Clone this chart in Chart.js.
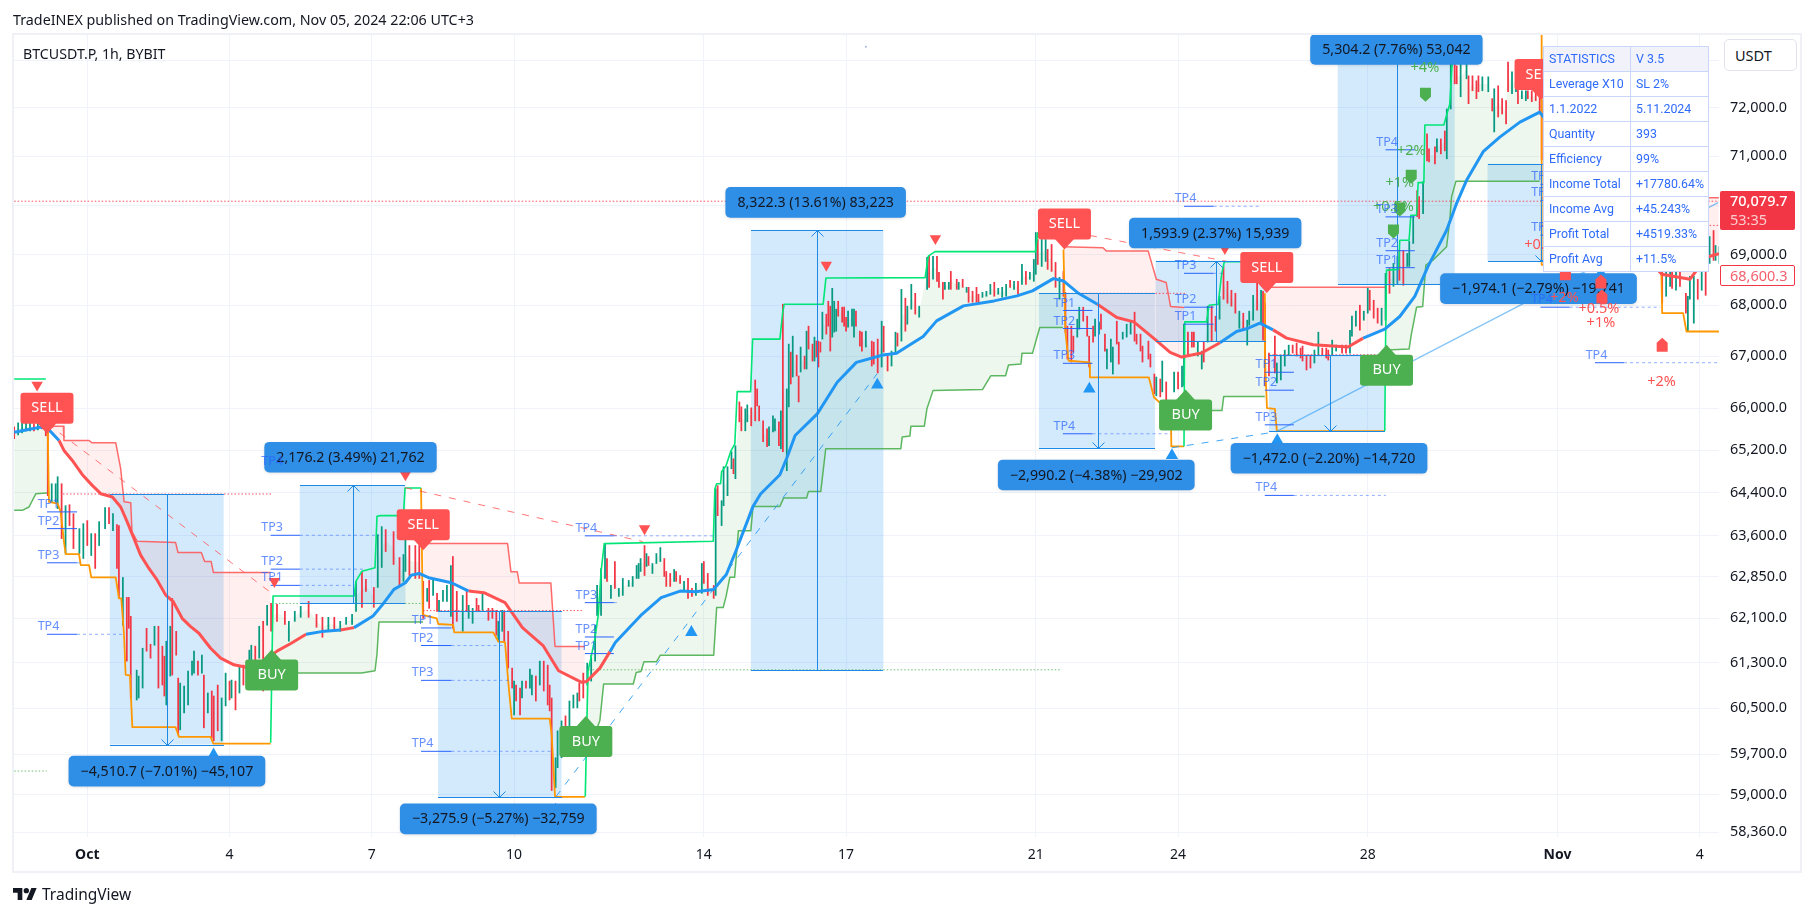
<!DOCTYPE html>
<html><head><meta charset="utf-8">
<script src="https://cdn.jsdelivr.net/npm/chart.js@4/dist/chart.umd.min.js"></script>
<style>
html,body{margin:0;padding:0;background:#fff;width:1814px;height:916px;overflow:hidden;font-family:"Noto Sans",sans-serif;color:#131722}
canvas{position:absolute;left:0;top:0;display:block}
.abs{position:absolute;white-space:nowrap}
#stats{position:absolute;left:1543px;top:46px;width:165px;border-collapse:collapse;background:#fff;font-family:Roboto,sans-serif;font-size:12.4px;color:#2f6bfa;table-layout:fixed}
#stats td{border:1px solid #c9d6fa;height:24px;padding:0 0 0 5px;line-height:24px;white-space:nowrap;overflow:hidden}
#stats tr:first-child td{background:#f2f3fa}
</style></head><body>
<canvas id="c" width="1814" height="916" style="width:1814px;height:916px"></canvas>
<div class="abs" style="left:12px;top:33px;width:1786px;height:836px;border:2px solid #f0f1f7;pointer-events:none"></div>
<div class="abs" id="pub" style="left:13px;top:10px;font-size:14.3px;line-height:20px">TradeINEX published on TradingView.com, Nov 05, 2024 22:06 UTC+3</div>
<div class="abs" id="sym" style="left:23px;top:44px;font-size:14.2px;line-height:20px">BTCUSDT.P, 1h, BYBIT</div>
<div class="abs" style="left:1724px;top:39px;width:71px;height:30px;border:1px solid #e0e3eb;border-radius:5px;background:#fff;font-size:14.5px;line-height:30px;padding-left:0;text-indent:10px;box-sizing:content-box">USDT</div>
<div class="abs" style="left:1720px;top:191px;width:75px;height:39px;background:#f23645;border-radius:2px;color:#fff;font-size:14.5px;line-height:19px;text-indent:10px;padding-top:0"><div style="font-weight:500">70,079.7</div><div style="opacity:.75">53:35</div></div>
<div class="abs" style="left:1720px;top:265px;width:73px;height:19px;background:#fff;border:1px solid #f23645;border-radius:2px;color:#f4606d;font-size:14.5px;line-height:19px;text-indent:9px">68,600.3</div>
<table id="stats">
<colgroup><col style="width:87px"><col style="width:78px"></colgroup>
<tr><td>STATISTICS</td><td>V 3.5</td></tr>
<tr><td>Leverage X10</td><td>SL 2%</td></tr>
<tr><td>1.1.2022</td><td>5.11.2024</td></tr>
<tr><td>Quantity</td><td>393</td></tr>
<tr><td>Efficiency</td><td>99%</td></tr>
<tr><td>Income Total</td><td>+17780.64%</td></tr>
<tr><td>Income Avg</td><td>+45.243%</td></tr>
<tr><td>Profit Total</td><td>+4519.33%</td></tr>
<tr><td>Profit Avg</td><td>+11.5%</td></tr>
</table>
<svg class="abs" style="left:13px;top:888px" width="24" height="12" viewBox="0 4 36 18"><path fill="#131722" d="M14 22H7V11H0V4h14v18zM28 22h-8l7.5-18h8L28 22z"/><circle fill="#131722" cx="20" cy="8" r="4"/></svg>
<div class="abs" style="left:42px;top:883px;font-size:15.5px;line-height:22px;color:#131722">TradingView</div>
<script>
// ---------- axes (x is hours since 1 Oct 00:00) ----------
const xTickHours=[0,72,144,216,312,384,480,552,648,744,816];
const xTickLabels=['Oct','4','7','10','14','17','21','24','28','Nov','4'];
const yTickValues=[73000,72000,71000,70000,69000,68000,67000,66000,65200,64400,63600,62850,62100,61300,60500,59700,59000,58360];

// ---------- candles ----------
const candleHours=[
-37,-35,-33,-31,-29,-27,-25,-23,-21,
-20,-18,-16,-15,-13,-11,-9,-7,-4,-2,0,2,4,6,9,11,13,15,16,18,20,21,22,25,26,28,30,32,34,36,38,39,40,42,43,45,46,47,49,51,53,54,56,58,59,61,63,64,66,68,70,72,73,75,77,79,82,83,85,87,89,91,93,
96,100,102,105,108,112,116,119,122,125,128,131,134,136,139,141,145,147,149,151,155,158,160,
161,163,166,168,170,172,173,175,177,178,180,182,184,185,187,190,192,193,195,197,198,200,203,205,207,208,210,211,213,215,216,217,219,220,222,224,225,227,229,231,233,234,235,237,238,240,242,244,246,248,249,251,253,255,257,258,260,262,
263,265,267,269,271,274,276,278,279,280,282,283,284,286,288,290,292,293,295,297,298,300,302,304,306,308,311,312,314,317,318,319,321,322,324,326,327,328,330,331,333,334,336,338,339,340,342,344,345,347,348,350,351,352,354,355,356,357,359,360,361,363,364,365,367,368,369,370,371,372,374,375,376,377,378,379,380,382,383,384,385,387,388,389,391,392,394,397,398,400,402,403,405,407,409,410,412,414,415,417,419,421,
425,426,428,430,431,433,434,436,437,440,441,443,445,446,448,450,451,453,455,457,459,461,463,465,467,469,471,473,475,477,479,480,481,483,485,486,488,490,492,494,495,496,498,499,501,502,504,506,507,509,510,512,513,515,516,518,519,521,522,524,526,528,530,531,533,534,537,538,540,541,543,544,546,550,552,554,555,557,559,560,562,564,565,567,569,571,
573,575,577,579,581,583,585,587,588,590,592,594,595,596,598,601,602,604,606,608,610,612,614,615,617,619,621,623,625,627,628,630,632,635,637,639,640,642,644,646,648,649,651,653,655,657,659,661,663,664,666,668,669,671,673,674,676,678,679,682,683,685,687,688,690,692,693,695,698,699,701,703,704,706,709,711,712,714,716,718,719,721,723,724,726,728,729,731,733,735,736,
797,799,801,802,804,806,809,810,811,813,815,817,819,821,823,824,826];
const candleLows=[
65415,65490,65528,65566,65566,65566,65585,65604,65471,
64345,64233,64233,64103,63549,63274,63789,63366,63274,63183,63421,63238,63001,63421,63733,63825,63696,63001,62457,61972,61331,61918,60679,60644,60679,60854,61508,61384,61614,60854,60907,60714,60557,61066,61083,61437,60034,60121,60417,60557,61083,61118,61083,61118,60156,60417,59982,59930,60104,59930,60539,60644,60679,60470,60767,60907,61083,61260,61331,61384,60802,61972,61864,
62043,61989,61686,62043,62115,62115,61936,61757,61864,61864,61864,61989,61989,62223,62295,62584,62295,62656,63019,63311,63074,62674,62765,
62946,62873,62819,62819,62097,62403,62277,62511,62223,62223,62403,62403,62133,61918,62043,61864,62223,62097,62007,62223,62223,62241,62061,62097,61793,61686,61864,61686,61207,60854,60382,60626,60382,60679,60854,60854,60732,60626,60907,60802,60557,60452,59072,59123,59465,59637,59930,60034,60504,60504,60626,60679,60907,60977,61331,62151,62151,62819,
62765,62457,62638,62493,62511,62674,62674,62819,62819,62946,62873,63038,63056,62910,63092,63128,62855,62674,62674,62765,62765,62729,62584,62457,62493,62511,62548,62729,62511,62457,62511,63973,63789,64158,64345,64850,64756,64662,65737,65566,65566,65737,65661,65756,66042,65756,65358,65264,65283,65547,65566,65283,65226,65170,64812,66023,66463,66597,66617,66118,66694,66752,66752,67139,66906,66906,66984,66790,67080,67333,67430,67586,67100,67372,67469,67488,67782,67664,67586,67488,67566,67586,67372,67586,67197,67100,67178,66810,66848,66675,66790,67080,66713,66810,67080,67197,67294,67488,67625,67920,67822,67762,
68312,68352,68511,68471,68352,68116,68312,68312,68312,68312,68312,68352,68253,68057,68057,68057,68057,68155,68175,68214,68175,68214,68155,68175,68352,68312,68214,68411,68411,68511,68471,68610,68807,68767,68867,68708,68668,68352,68116,68175,67469,66945,66887,67080,67372,67527,67684,67391,66790,67275,67391,67430,67527,67100,66752,66887,66655,67236,66848,67333,67372,67430,67294,67236,67100,66887,66945,66790,66272,66234,66215,66311,66138,66311,66368,66406,66425,67042,67178,67178,67003,66752,66887,67275,67294,67488,
67723,68116,68038,67979,67841,67546,67507,67216,67605,67703,67900,67645,67313,66425,66617,66675,66483,66540,66810,67023,67061,67003,66965,66906,66733,66771,66868,67023,67023,66965,66925,67023,67100,67061,67061,67061,67391,67586,67507,67703,67841,67900,67743,67645,67605,67703,68233,68372,68431,68491,68391,68767,68767,69227,69768,69728,69829,70905,70885,70844,71090,71049,71111,70946,71979,72506,72506,72235,72611,72090,72360,72195,72340,72360,72340,71937,71501,71813,71875,71669,72340,72298,72340,72090,72195,72153,72195,72132,72153,71875,70926,
68038,68175,68372,68332,68293,68372,67841,67488,68116,67645,68116,68293,68194,68827,68887,68887,68827];
const candleHighs=[
65642,65718,65737,65718,65718,65699,65718,65718,65699,
65547,64568,64568,64700,64568,64158,64177,64010,63733,63825,63881,63641,63641,63862,64122,64122,64010,63807,63789,62837,62475,62475,62133,61171,61066,61561,61918,61632,61954,61954,61597,61419,61686,61954,62457,61864,61030,60942,60889,61154,61331,61508,61331,61437,61083,60767,60802,60714,60907,60679,61118,60977,60995,60977,61242,61260,61526,61614,61597,61954,62043,62331,62366,
62349,62223,62043,62223,62313,62403,62169,62115,62115,62115,62043,62115,62169,62765,62946,62801,62656,63622,63770,63715,63678,63201,63256,
63549,63421,63421,63421,62765,62638,62783,62783,62548,62421,62602,62692,63056,63220,62584,62511,62584,62331,62277,62457,62331,62548,62277,62277,62241,62043,62241,62223,61864,61207,60977,60907,60854,60977,60977,61189,61083,61066,61331,61331,61260,60907,60679,59637,60104,60278,60365,60626,60732,60767,60942,61118,61295,61437,61972,62692,63001,63457,
63183,62692,63128,62638,62819,62783,62855,63056,63092,63183,63421,63274,63220,63092,63274,63384,63183,62946,62910,62983,62946,62873,62765,62819,62638,62729,63092,63128,62910,62692,64475,64531,64252,64887,64887,65170,65037,65283,66118,66023,65985,66061,66004,66540,66368,66042,65756,65604,65642,65851,65794,65737,65947,68018,66368,67236,67080,67391,67023,66617,67178,67003,67488,67586,67236,67372,67294,67294,67275,67861,67822,68077,67979,68332,68077,67920,68077,67959,67959,67762,67881,67920,67920,67881,67488,67469,67488,67294,67275,67333,67684,67586,67042,67100,67469,67449,68312,68136,67979,68411,68233,67979,
68947,68967,68967,68967,68649,68451,68451,68451,68668,68511,68451,68511,68352,68352,68273,68352,68214,68253,68273,68411,68451,68332,68352,68411,68491,68471,68471,68807,68668,68649,68907,69447,69306,69306,69306,69107,69206,68847,68550,68668,68253,67586,67586,67391,67723,67959,67959,67782,67391,67586,67723,67664,67822,67430,67139,67333,67178,67684,67275,67469,67625,67664,67861,67430,67430,67197,67294,67042,66655,66597,66559,66906,66502,66694,66694,66810,67625,67469,67469,67469,67275,67100,67275,67979,67979,67782,
68175,68767,68471,68293,68233,67881,67841,67703,67881,68194,68471,68293,68273,68038,67061,67391,66868,67023,67119,67216,67216,67255,67158,67197,67023,67023,67119,67469,67158,67158,67119,67313,67216,67216,67216,67507,67782,67881,67998,67881,68332,68293,68096,67940,67940,68630,68728,68827,68967,69087,69087,69027,69267,69768,70296,70174,70478,71460,71152,71193,71357,71357,71522,71979,72967,72988,72884,73030,73030,72674,72674,72569,72674,72653,72653,72195,72402,72464,72195,72153,72967,72758,72758,72402,72360,72360,72360,72360,72340,72256,72167,
69107,69007,68907,69007,68947,68867,68233,68175,68570,68570,68511,68867,68807,69366,69487,69186,69166];
const candleDirs=("rggggrgrr"
+"rgggrgrrgg rgrggrgrrg rrrgggrrgr rrggrrrggg ggrgrgrrrg grgrgrggrg rgr"
+"rrgggrrrgrgggg rrrgg rrrg"
+"grrrrgrgrg gggrrgrggr rgrrrggrrr grrgrggrgr rrrgggrggg rrgggggg"
+"rgrggggggg rgrgggrrrg rrgrrggrrr grggggrgrr ggrrrrrrgg grgrggrgrr grgrrgrrrg rrrgggrrrr gggrrrgrrr grrggrgrgg rg"
+"grgrrrggrr grgrrrrggg rgggrgrgrg ggrggrrrgr rrrrggrrrr ggrrgggrrg ggrrrrrrrg rgrgrggrrr ggrgrr"
+"grrrrgrggg rgrrrrgggg rrrrrrggrr rggrrgggrg grrrggrggr rgggrrgrrr grrggrrggr rrrggrgrrr rggrggrrrrr"
+"rggrgrrgggrgrgrgg").replace(/ /g,'');

// ---------- smoothed average (thick line) ----------
const emaHours=[-37,-30.4,-23.6,-20.2,-14.3,-11.8,-7.6,-2.5,2.5,6.8,12.7,16.9,20.2,23.3,27,31.2,35.4,39.7,43.5,48,52.3,56.5,62.4,67.5,74.2,81,88.4,96.2,103,110.7,118.5,128.2,135,144.6,149.5,155.2,161,164,167.9,172.7,184.3,193,200.7,211.4,220.2,230.8,238.5,250.2,252.7,259.4,264.5,267.2,280.7,290.4,300,307.9,317,323.4,328.2,336.9,340.7,350.5,354.3,358.2,369.4,379.5,389.2,402.7,409.5,423,429.8,443.4,458.9,470.5,478.3,488.9,494,501.6,511.2,521,529.6,540.2,548,553.8,563.9,573.2,581.6,587.5,593.4,600.1,606.9,620.4,638,645.7,656.6,664.2,671.8,678.5,687.9,692.9,698,706.4,714.8,725,735,750,765,785.6,796.8,811,819.4,825.7];
const emaPrices=[65541,65585,65636,65617,65383,65194,65005,64737,64537,64382,64321,64134,63857,63579,63245,63001,62788,62516,62397,62097,61948,61828,61561,61384,61266,61219,61313,61513,61645,61811,61858,61888,61930,62138,62349,62620,62741,62880,62910,62832,62741,62590,62560,62380,61930,61602,61160,60955,60970,61207,61500,61662,62169,62470,62590,62578,62620,62892,63317,64145,64376,64737,65080,65477,65890,66495,66881,67023,67056,67385,67690,67985,68083,68182,68281,68525,68478,68233,68018,67756,67670,67333,67075,66984,67062,67263,67482,67546,67645,67514,67352,67222,67178,67352,67527,67776,68174,68767,69493,70030,70505,71092,71394,71705,71912,71132,70112,69107,68610,68511,68950,69020];
const emaRedFrom=[-20,126,192,502,600,736];
const emaRedTo=[110.7,130,261,573,640,826];

// ---------- stepped bands (null ends a trend) ----------
const upperGreenHours=[-37,-21,-20,
92.8,94,135,136,139,145.6,146.6,148,160,160.8,168.9,169,
252,253.4,255.2,256.9,258.6,260,261.6,316.8,317.6,318.5,320.5,321,323.2,325.6,327.7,328.9,335.7,336.7,350.5,351.9,352.7,372.4,373.8,424,425.6,429,479.8,481,493.7,494,
555,555.4,566.4,567.7,572.3,574,575.4,595.9,596,
656.6,657,657.5,663.6,664.2,668.9,669.8,672.7,673.5,676.4,676.9,686.5,689.5,690.7,692.9,693.6,735.6];
const upperGreenPrices=[66560,66560,null,
59895,62499,62499,62770,62952,63014,63960,63973,63973,64488,64488,null,
58965,61154,61443,61739,62157,62940,63457,63500,64475,64568,64568,64794,64900,65175,65320,66316,66316,67333,67333,67855,68018,68018,68537,68545,68974,69063,69063,69440,69440,null,
65270,67670,67670,67998,68018,68594,68860,68860,null,
65561,67197,68694,68708,69292,69292,69795,69795,70458,70458,71646,71646,72083,72925,73455,73644,73644];
const lowerOrangeHours=[-20,-19.4,-15,-13.5,-11.8,-10.9,-4.2,-3.3,0.9,2,14.4,16,17.2,18.6,19.4,21.6,22.8,44.7,46.4,62.4,63.8,92.8,93,
168.9,169.8,176.8,177.6,185.2,185.7,205.4,208,211.4,213,214.8,234,235,236.7,251.8,252,
494,495,496.6,507.3,507.4,537.2,539.8,543,548.3,548.6,555,555.5,
595.9,596,597,601,602,656.6,657,
736,736,796.5,797,807.6,809.3,825.7];
const lowerOrangePrices=[65547,64228,64196,64048,63489,63262,63262,63061,63061,62837,62837,62457,62457,61798,61088,61078,60168,60168,59999,59999,59883,59883,null,
64488,62157,62097,61995,61978,61846,61846,61680,61668,60977,60318,60318,60040,58965,58965,null,
69107,67469,66912,66881,66592,66592,66208,66094,66094,65270,65270,null,
68233,66945,65998,65985,65561,65561,null,
73700,68800,68800,67841,67841,67482,67482];
const upperRedHours=[-19.7,-12.1,-11.8,0.9,2.4,14.4,16.9,18.6,22,22.6,25.3,44.7,45.9,57.7,59.4,62.7,63.8,92.8,93,
170,212.7,214.4,217.6,218.6,234.6,236.7,251.8,252,
493.9,514,515.8,536.9,541,546,548.2,555,555.5,
596,657,657.5,
736,825.7];
const upperRedPrices=[65655,65655,65383,65383,65339,65339,64850,64233,64215,63678,63500,63476,63293,63293,63128,63128,62928,62928,null,
63457,63457,62940,62940,62734,62734,61591,61591,null,
69161,69140,69073,69073,68511,68446,67973,67953,null,
68352,68352,null,
70150,70150];
const lowerGreenHours=[-37,-32.9,-29.5,-26,-20.4,-20,
93,138.8,145.6,146.6,147.6,169.9,170,
252.3,259.4,261.3,276.3,277.8,280.2,281.7,288,290,317,318.5,321.8,323.3,325.2,327.6,329.5,335.8,336.9,350.5,352.4,364,365,371.2,373.7,411.7,412.4,416.3,416.8,423.6,424.9,428,453,457.3,464.7,466.2,472.5,473,478.3,482,493.7,494,
556,574.2,575.1,595.9,596,
657.5,668.9,670,672.7,675.8,677.4,681,687.9,689.5,690.4,692.6,735];
const lowerGreenPrices=[64072,64072,64134,64382,64395,null,
61122,61122,61160,61455,62030,62030,null,
59637,60283,60925,60925,61130,61148,61318,61318,61437,61437,62290,62290,62499,62842,62842,63696,63696,64145,64145,64302,64302,64425,64425,65226,65226,65447,65466,65655,65655,65985,66335,66355,66623,66623,66829,66848,67056,67056,67560,67560,null,
65953,65953,66220,66220,null,
67120,67139,67416,67959,67973,68793,68893,69160,69694,70167,70484,70484];
const buyTrendFrom=[-37,93,252,555,657];
const buyTrendTo=[-20,169,494,596,736];

// ---------- position boxes ----------
const boxStart=[11.4,107.5,177.5,335.8,481.6,540.6,598,632.8,708.6];
const boxEnd=[69,161,240,402.9,540.3,596.4,656.6,692,762];
const boxTop=[64376,64541,62236,69499,68233,68882,67028,73715,70844];
const boxBottom=[59865,62365,58960,61177,65243,67288,65556,68411,68870];
const boxArrowHour=[40.4,134.4,208.5,369.4,511.3,571,629,662.9,735.6];
const boxArrowUp=[0,1,0,1,0,1,0,1,0];
const pillTexts=['\u22124,510.7 (\u22127.01%) \u221245,107','2,176.2 (3.49%) 21,762','\u22123,275.9 (\u22125.27%) \u221232,759','8,322.3 (13.61%) 83,223','\u22122,990.2 (\u22124.38%) \u221229,902','1,593.9 (2.37%) 15,939','\u22121,472.0 (\u22122.20%) \u221214,720','5,304.2 (7.76%) 53,042','\u22121,974.1 (\u22122.79%) \u221219,741'];
const pillHours=[40.3,133.2,208,368.6,510.6,570.8,628.4,662.5,734.4];
const pillPrices=[59407,65066,58590,70058,64732,69437,65047,73235,68325];

// ---------- trade flags and markers ----------
const sellHours=[-20.4,170,494.5,596.9,735.7];
const sellPrices=[65510,63335,69107,68240,72167];
const buyHours=[93.3,252.3,555.8,657.5];
const buyPrices=[61540,60364,66355,67222];
const triangleDownHours=[-25.4,94.7,161,282,374,429.2,575.7];
const triangleDownPrices=[66443,62765,64737,63733,68795,69326,69127];
const triangleUpHours=[63.9,237,305.7,399.8,507.1,548.9,602.2,766];
const triangleUpPrices=[59688,58740,61846,66445,66368,65100,65383,68630];
const specHours=[394];
const specPrices=[73290];
const shieldGreenHours=[677.2,670,664.2,661];
const shieldGreenPrices=[72276,70580,69910,69467];
const shieldRedHours=[797,766,766.5,748];
const shieldRedPrices=[67222,68465,68170,68630];
const gainTexts=['+4%','+2%','+1%','+0.5%','+0.5%','+2%','+0.5%','+1%','+2%'];
const gainHours=[676.9,670,664.2,661,737.5,747.5,765,766,796.7];
const gainPrices=[72840,71118,70458,69965,69200,68135,67920,67645,66507];
const gainIsGreen=[1,1,1,1,0,0,0,0,0];

// ---------- take profit ticks ----------
const tpNames=['TP1','TP2','TP3','TP4','TP1','TP2','TP3','TP4','TP1','TP2','TP3','TP4','TP1','TP2','TP3','TP4','TP1','TP2','TP3','TP4','TP1','TP2','TP3','TP4','TP1','TP2','TP3','TP4','TP1','TP2','TP3','TP4','TP1','TP2','TP3','TP4','TP4'];
const tpStart=[-20.4,-20.4,-20.4,-20.4,92.8,92.8,92.8,92.8,168.9,168.9,168.9,168.9,251.8,251.8,251.8,251.8,493.7,493.7,493.7,493.7,555,555,555,555,595.9,595.9,595.9,595.9,657,657,657,657,735.4,735.4,735.4,735.4,763];
const tpSolidEnd=[-5.2,-5.2,-5.2,-5.2,107.6,107.6,107.6,107.6,184.3,184.3,184.3,184.3,266.5,266.5,266.5,266.5,508.7,508.7,508.7,508.7,570,570,570,570,610.6,610.6,610.6,610.6,671.8,671.8,671.8,671.8,750.2,750.2,750.2,750.2,777.7];
const tpDashEnd=[-5.2,-5.2,-3.7,17.8,135,139.5,147.6,107.6,184.3,211.4,213.4,234.6,266.5,266.5,269,317.6,508.7,508.7,508.7,548.7,570,570,575,593.8,610.6,610.6,610.6,657.2,671.8,671.8,671.8,671.8,750.2,750.2,750.2,796,825.2];
const tpPrices=[64043,63733,63105,61810,62693,62989,63610,64850,61924,61609,60990,59748,61465,61762,62380,63600,67895,67541,66862,65510,67625,67959,68630,69977,66689,66343,65680,64350,68742,69081,69762,71132,70423,70098,69393,67959,66874];

// ---------- horizontal dotted levels and trend connectors ----------
const dottedRedStart=[-37,-12.3,169.9,494.5,598,736];
const dottedRedEnd=[825.7,93.3,251.3,555.5,656.6,825.7];
const dottedRedPrice=[70079.7,64376,62236,68233,67028,69590];
const dottedGreenStart=[-37,95.2,254,555.5,657];
const dottedGreenEnd=[-20.6,169.9,493.2,596,736];
const dottedGreenPrice=[59407,62365,61177,67288,68411];
const dashRedHours=[-20,93.4,null,160.8,281.1,null,507.4,577];
const dashRedPrices=[65699,62548,null,64494,63494,null,69387,68866];
const dashBlueHours=[237.2,399.6,null,548.9,601.5];
const dashBluePrices=[58969,66655,null,65245,65547];
const linkBlueHours=[601.5,825.3];
const linkBluePrices=[65547,70052];

const xMin=-37.09,xMax=825.75,yMin=58282,yMax=73561;
const FONT='"Noto Sans",sans-serif';
const zip=(hs,ps)=>hs.map((h,i)=>({x:h,y:ps[i]}));
const spans=(a,b,p)=>{const o=[];a.forEach((s,i)=>{o.push({x:s,y:p[i]},{x:b[i],y:p[i]},{x:b[i],y:null});});return o;};
const inRanges=(h,f,t)=>f.some((s,i)=>h>=s&&h<t[i]);

const candlePts=candleHours.map((h,i)=>({x:h,y:[candleLows[i],candleHighs[i]]}));
const candleColors=candleHours.map((h,i)=>candleDirs[i]==='g'?'#089981':'#f23645');
const midPts=[];
buyTrendFrom.forEach((s,k)=>{
  candleHours.forEach((h,i)=>{if(h>=s&&h<=buyTrendTo[k])midPts.push({x:h,y:(candleLows[i]+candleHighs[i])/2});});
  midPts.push({x:buyTrendTo[k],y:null});
});

const BLUE='#2196f3',RED='#ff5252',PINK='rgba(255,82,82,0.09)',PALE='rgba(76,175,80,0.10)';
const line=(data,color,width,extra)=>Object.assign({type:'line',data,borderColor:color,borderWidth:width,pointRadius:0,tension:0,fill:false,spanGaps:false,borderJoinStyle:'round'},extra||{});
const mark=(data,color,rot,r,order)=>({type:'line',data,showLine:false,pointStyle:'triangle',pointRotation:rot,pointRadius:r,pointBackgroundColor:color,pointBorderWidth:0,order});

const datasets=[
 line(zip(emaHours,emaPrices),BLUE,3,{order:40,segment:{borderColor:c=>inRanges(c.p0.parsed.x,emaRedFrom,emaRedTo)?RED:BLUE}}),
 line(zip(upperRedHours,upperRedPrices),'rgba(255,82,82,0.85)',1.5,{order:80,fill:{target:0,above:PINK,below:'transparent'}}),
 line(zip(lowerGreenHours,lowerGreenPrices),'rgba(76,175,80,0.9)',1.5,{order:80,fill:{target:0,above:'transparent',below:PALE}}),
 line(midPts,'transparent',0,{order:90,fill:{target:0,above:PALE,below:'transparent'}}),
 {type:'bar',data:candlePts,backgroundColor:candleColors,barThickness:1.1,order:60,borderWidth:0},
 line(zip(upperGreenHours,upperGreenPrices),'#00e676',1.6,{order:50}),
 line(zip(lowerOrangeHours,lowerOrangePrices),'#ff9800',1.8,{order:50}),
 line(zip(dashRedHours,dashRedPrices),'rgba(255,82,82,0.8)',1,{order:45,borderDash:[7,8]}),
 line(zip(dashBlueHours,dashBluePrices),'rgba(33,150,243,0.85)',1,{order:45,borderDash:[7,8]}),
 line(zip(linkBlueHours,linkBluePrices),'rgba(33,150,243,0.55)',1.4,{order:45}),
 line(spans(dottedRedStart,dottedRedEnd,dottedRedPrice),'rgba(242,54,69,0.85)',1,{order:46,borderDash:[1.5,2]}),
 line(spans(dottedGreenStart,dottedGreenEnd,dottedGreenPrice),'rgba(76,175,80,0.8)',1,{order:46,borderDash:[1.5,2]}),
 line(spans(tpSolidEnd,tpDashEnd,tpPrices),'rgba(41,98,255,0.5)',1,{order:44,borderDash:[3,3]}),
 line(spans(tpStart,tpSolidEnd,tpPrices),'#2962ff',1,{order:43}),
 mark(zip(triangleDownHours,triangleDownPrices),RED,180,6.6,30),
 mark(zip(triangleUpHours,triangleUpPrices),BLUE,0,7.2,30),
 mark([{x:690.8,y:73515}],'#4caf50',180,6.6,30),
 {type:'line',data:zip(specHours,specPrices),showLine:false,pointStyle:'rect',pointRadius:1.2,pointBackgroundColor:'#9fb0e0',pointBorderWidth:0,order:30}
];

function rr(ctx,x,y,w,h,r){ctx.beginPath();ctx.roundRect(x,y,w,h,r);}
const overlay={
 id:'overlay',
 beforeDatasetsDraw(ch){
   const {ctx,chartArea:a,scales:{x,y}}=ch;
   ctx.save();ctx.beginPath();ctx.rect(a.left,a.top,a.right-a.left,a.bottom-a.top);ctx.clip();
   ctx.fillStyle='rgba(33,150,243,0.2)';
   boxStart.forEach((s,i)=>{
     const l=x.getPixelForValue(s),r=x.getPixelForValue(boxEnd[i]),t=y.getPixelForValue(boxTop[i]),b=y.getPixelForValue(boxBottom[i]);
     ctx.fillRect(l,t,r-l,b-t);
   });
   ctx.restore();
 },
 afterDatasetsDraw(ch){
   const {ctx,chartArea:a,scales:{x,y}}=ch;
   ctx.save();ctx.beginPath();ctx.rect(a.left,a.top,a.right-a.left,a.bottom-a.top);ctx.clip();
   // box edges and arrows
   ctx.strokeStyle='#1e88e5';ctx.lineWidth=1;
   boxStart.forEach((s,i)=>{
     const l=Math.round(x.getPixelForValue(s)),r=Math.round(x.getPixelForValue(boxEnd[i])),t=Math.round(y.getPixelForValue(boxTop[i]))+.5,b=Math.round(y.getPixelForValue(boxBottom[i]))+.5,m=Math.round(x.getPixelForValue(boxArrowHour[i]))+.5;
     ctx.beginPath();ctx.moveTo(l,t);ctx.lineTo(r,t);ctx.moveTo(l,b);ctx.lineTo(r,b);ctx.moveTo(m,t);ctx.lineTo(m,b);
     if(boxArrowUp[i]){ctx.moveTo(m-6,t+6);ctx.lineTo(m,t);ctx.lineTo(m+6,t+6);}else{ctx.moveTo(m-6,b-6);ctx.lineTo(m,b);ctx.lineTo(m+6,b-6);}
     ctx.stroke();
   });
   // result pills
   ctx.font='14.2px '+FONT;ctx.textAlign='center';ctx.textBaseline='middle';
   pillTexts.forEach((t,i)=>{
     const cx=x.getPixelForValue(pillHours[i]),cy=y.getPixelForValue(pillPrices[i]),w=ctx.measureText(t).width+24,h=30.7;
     ctx.shadowColor='rgba(0,0,0,0.12)';ctx.shadowBlur=3;ctx.shadowOffsetY=1;
     ctx.fillStyle='#2f8ee5';rr(ctx,cx-w/2,cy-h/2,w,h,5);ctx.fill();
     ctx.shadowColor='transparent';ctx.shadowBlur=0;ctx.shadowOffsetY=0;
     ctx.fillStyle='#131722';ctx.fillText(t,cx,cy+.5);
   });
   // SELL / BUY flags
   const flag=(hx,py,txt,col,up)=>{
     const cx=x.getPixelForValue(hx),tip=y.getPixelForValue(py),W=53,H=31;
     const top=up?tip+10:tip-41;
     ctx.fillStyle=col;rr(ctx,cx-W/2,top,W,H,3);ctx.fill();
     ctx.beginPath();
     if(up){ctx.moveTo(cx,tip);ctx.lineTo(cx-10,top+1);ctx.lineTo(cx+10,top+1);}else{ctx.moveTo(cx,tip);ctx.lineTo(cx-10,top+H-1);ctx.lineTo(cx+10,top+H-1);}
     ctx.closePath();ctx.fill();
     ctx.fillStyle='#fff';ctx.font='14.5px '+FONT;ctx.fillText(txt,cx,top+H/2);
   };
   sellHours.forEach((h,i)=>flag(h,sellPrices[i],'SELL','#ff5252',false));
   buyHours.forEach((h,i)=>flag(h,buyPrices[i],'BUY','#4caf50',true));
   // shields
   const shield=(hx,py,col,down)=>{
     const cx=x.getPixelForValue(hx),cy=y.getPixelForValue(py),W=5.5,H=7;
     ctx.fillStyle=col;ctx.beginPath();
     if(down){ctx.moveTo(cx-W,cy-H);ctx.lineTo(cx+W,cy-H);ctx.lineTo(cx+W,cy+2);ctx.lineTo(cx,cy+H);ctx.lineTo(cx-W,cy+2);}
     else{ctx.moveTo(cx,cy-H);ctx.lineTo(cx+W,cy-2);ctx.lineTo(cx+W,cy+H);ctx.lineTo(cx-W,cy+H);ctx.lineTo(cx-W,cy-2);}
     ctx.closePath();ctx.fill();
   };
   shieldGreenHours.forEach((h,i)=>shield(h,shieldGreenPrices[i],'#4caf50',true));
   shieldRedHours.forEach((h,i)=>shield(h,shieldRedPrices[i],'#ff5252',false));
   // gain texts
   ctx.font='14.5px '+FONT;
   gainTexts.forEach((t,i)=>{ctx.fillStyle=gainIsGreen[i]?'#4caf50':'#ff5252';ctx.fillText(t,x.getPixelForValue(gainHours[i]),y.getPixelForValue(gainPrices[i]));});
   // take-profit names
   ctx.font='12.5px '+FONT;ctx.fillStyle='rgba(41,98,255,0.72)';
   tpNames.forEach((t,i)=>{ctx.fillText(t,x.getPixelForValue(tpStart[i])+1.5,y.getPixelForValue(tpPrices[i])-7.5);});
   ctx.restore();
 }
};

new Chart(document.getElementById('c'),{
 type:'line',
 data:{datasets},
 plugins:[overlay],
 options:{
  responsive:false,animation:false,devicePixelRatio:1,events:[],
  layout:{padding:{left:14,top:34,right:13,bottom:44}},
  plugins:{legend:{display:false},tooltip:{enabled:false},title:{display:false}},
  scales:{
   x:{type:'linear',position:'bottom',min:xMin,max:xMax,offset:false,
      grid:{color:'#f0f3fa',drawTicks:false,offset:false},border:{display:false},
      afterBuildTicks:s=>{s.ticks=xTickHours.map(v=>({value:v}));},
      afterFit:s=>{s.height=35;},
      ticks:{autoSkip:false,maxRotation:0,padding:10,color:'#131722',
        font:c=>({family:FONT,size:14,weight:(c.tick&&(c.tick.value===0||c.tick.value===744))?'bold':'normal'}),
        callback:(v)=>xTickLabels[xTickHours.indexOf(v)]}},
   y:{type:'logarithmic',position:'right',min:yMin,max:yMax,
      grid:{color:'#f0f3fa',drawTicks:false},border:{display:false},
      afterBuildTicks:s=>{s.ticks=yTickValues.map(v=>({value:v}));},
      afterFit:s=>{s.width=82;},
      ticks:{autoSkip:false,padding:11,color:'#131722',font:{family:FONT,size:14.4},
        callback:v=>v.toLocaleString('en-US',{minimumFractionDigits:1,maximumFractionDigits:1})}}
  }
 }
});
</script>
</body></html>
